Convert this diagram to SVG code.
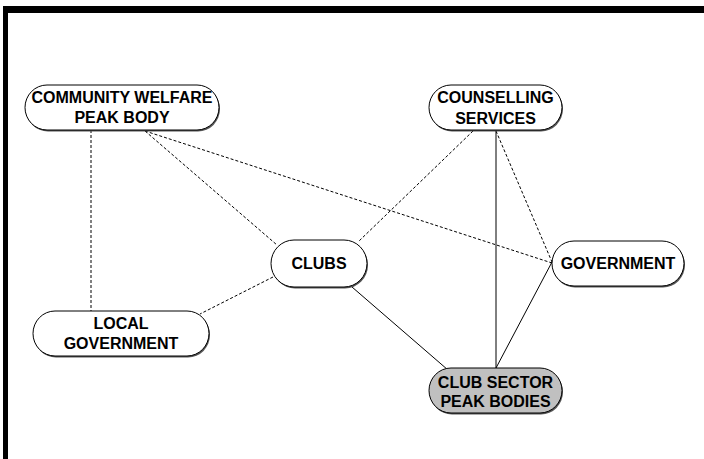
<svg xmlns="http://www.w3.org/2000/svg" width="704" height="459" viewBox="0 0 704 459">
  <style>
    .frame { fill: #000; }
    .node { fill: #fff; stroke: #000; stroke-width: 1; }
    .node.peak { fill: #c0c0c0; }
    .shadow { fill: #555; }
    .label { font-family: "Liberation Sans", Arial, sans-serif; font-weight: bold; font-size: 16px; fill: #000; text-anchor: middle; }
    .link { stroke: #000; stroke-width: 1; fill: none; }
    .link.dashed { stroke-dasharray: 3 2; }
  </style>

  <rect width="704" height="459" fill="#fff"/>

  <!-- page frame: heavy bar along top and left -->
  <rect class="frame" x="3" y="6" width="701" height="7"/>
  <rect class="frame" x="3" y="6" width="5" height="453"/>

  <g id="connectors">
    <line class="link dashed" x1="91" y1="130" x2="91" y2="311"/>
    <line class="link dashed" x1="145" y1="131" x2="277" y2="245"/>
    <line class="link dashed" x1="145" y1="131" x2="552" y2="263"/>
    <line class="link dashed" x1="473" y1="131" x2="358" y2="242"/>
    <line class="link dashed" x1="496" y1="131" x2="552" y2="262"/>
    <line class="link dashed" x1="273" y1="277" x2="200" y2="314"/>
    <line class="link" x1="496" y1="131" x2="496" y2="368"/>
    <line class="link" x1="552" y1="262" x2="496" y2="368"/>
    <line class="link" x1="352" y1="287" x2="448" y2="370"/>
  </g>

  <g id="community-welfare">
    <rect class="shadow" x="26" y="86.5" width="194" height="45" rx="22" ry="22.5"/>
    <rect class="node" x="25" y="85" width="194" height="45" rx="22" ry="22.5"/>
    <text class="label" x="122" y="103">COMMUNITY WELFARE</text>
    <text class="label" x="122" y="123">PEAK BODY</text>
  </g>

  <g id="counselling">
    <rect class="shadow" x="430" y="86.5" width="133" height="45" rx="22" ry="22.5"/>
    <rect class="node" x="429" y="85" width="133" height="45" rx="22" ry="22.5"/>
    <text class="label" x="495.5" y="103">COUNSELLING</text>
    <text class="label" x="495.5" y="124">SERVICES</text>
  </g>

  <g id="clubs">
    <rect class="shadow" x="272" y="241.5" width="96" height="47" rx="23" ry="23.5"/>
    <rect class="node" x="271" y="240" width="96" height="47" rx="23" ry="23.5"/>
    <text class="label" x="319" y="269">CLUBS</text>
  </g>

  <g id="government">
    <rect class="shadow" x="553" y="242.5" width="132" height="45" rx="22" ry="22.5"/>
    <rect class="node" x="552" y="241" width="132" height="45" rx="22" ry="22.5"/>
    <text class="label" x="618" y="269">GOVERNMENT</text>
  </g>

  <g id="local-government">
    <rect class="shadow" x="34" y="312.5" width="176" height="45" rx="22" ry="22.5"/>
    <rect class="node" x="33" y="311" width="176" height="45" rx="22" ry="22.5"/>
    <text class="label" x="121" y="329">LOCAL</text>
    <text class="label" x="121" y="349">GOVERNMENT</text>
  </g>

  <g id="club-sector">
    <rect class="shadow" x="430" y="369.5" width="133" height="45" rx="22" ry="22.5"/>
    <rect class="node peak" x="429" y="368" width="133" height="45" rx="22" ry="22.5"/>
    <text class="label" x="495.5" y="388">CLUB SECTOR</text>
    <text class="label" x="495.5" y="407">PEAK BODIES</text>
  </g>
</svg>
